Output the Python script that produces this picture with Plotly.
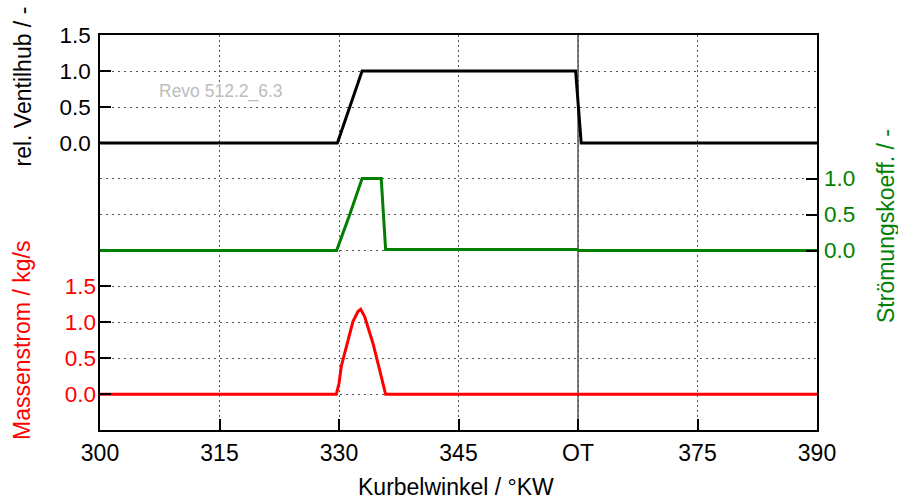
import plotly.graph_objects as go

# Crank angle axis
x_ticks = [300, 315, 330, 345, 360, 375, 390]
x_ticktext = ["300", "315", "330", "345", "OT", "375", "390"]
ot_angle = 360

# Relative valve lift
lift_angle = [300, 329.8, 331.35, 332.9, 359.7, 360.4, 390]
lift_value = [0.0, 0.0, 0.5, 1.0, 1.0, 0.0, 0.0]

# Flow coefficient
flow_angle = [300, 329.7, 331.35, 332.9, 335.3, 335.85, 359.9, 360.1, 390]
flow_value = [0.0, 0.0, 0.5, 1.0, 1.0, 0.015, 0.015, 0.0, 0.0]

# Mass flow
mass_angle = [300, 329.66, 330.0, 330.29, 330.71, 331.75, 332.38, 332.72,
              333.22, 334.26, 335.1, 335.85, 390]
mass_value = [0.0, 0.0, 0.15, 0.39, 0.57, 1.01, 1.15, 1.18,
              1.08, 0.71, 0.34, 0.0, 0.0]

lift_ticks = [0, 0.5, 1.0, 1.5]
flow_ticks = [0, 0.5, 1.0]
mass_ticks = [0, 0.5, 1.0, 1.5]

FONT = "Liberation Sans, Arial, sans-serif"
GREEN = "#008000"
RED = "#ff0000"
TICK_SIZE_Y = 22.5
TICK_SIZE_X = 23
TITLE_SIZE = 23

fig = go.Figure()
fig.add_trace(go.Scatter(x=lift_angle, y=lift_value, mode="lines",
                         line=dict(color="black", width=3), yaxis="y"))
fig.add_trace(go.Scatter(x=flow_angle, y=flow_value, mode="lines",
                         line=dict(color=GREEN, width=3), yaxis="y2"))
fig.add_trace(go.Scatter(x=mass_angle, y=mass_value, mode="lines",
                         line=dict(color=RED, width=3), yaxis="y3"))

tick_common = dict(ticks="inside", ticklen=11, tickwidth=1.5, tickcolor="black",
                   showgrid=True, gridcolor="#555", griddash="2px,4px", gridwidth=1,
                   zeroline=False, fixedrange=True)

fig.update_layout(
    width=898, height=500, autosize=False,
    margin=dict(l=100, r=81, t=35, b=70),
    paper_bgcolor="white", plot_bgcolor="white",
    showlegend=False,
    font=dict(family=FONT, size=20, color="black"),
    xaxis=dict(range=[300, 390], tickvals=x_ticks, ticktext=x_ticktext,
               ticks="inside", ticklen=11, tickwidth=1.5, tickcolor="black",
               showgrid=True, gridcolor="#555", griddash="2px,3px", gridwidth=1,
               zeroline=False, showline=True, linecolor="black", linewidth=1.5,
               mirror=True, ticklabelstandoff=2,
               tickfont=dict(size=TICK_SIZE_X, color="black")),
    yaxis=dict(range=[1.5 - 395 / 72, 1.5], tickvals=lift_ticks,
               tickformat=".1f", side="left", showline=True, linecolor="black",
               linewidth=1.5, mirror=True, ticklabelstandoff=3,
               tickfont=dict(size=TICK_SIZE_Y, color="black"), **tick_common),
    yaxis2=dict(range=[-(430 - 250.5) / 72, (250.5 - 35) / 72], tickvals=flow_ticks,
                tickformat=".1f", side="right", overlaying="y", ticklabelstandoff=6,
                tickfont=dict(size=TICK_SIZE_Y, color=GREEN), **tick_common),
    yaxis3=dict(range=[-(430 - 394.3) / 72, (394.3 - 35) / 72], tickvals=mass_ticks,
                tickformat=".1f", side="left", overlaying="y", ticklabelstandoff=3,
                tickfont=dict(size=TICK_SIZE_Y, color=RED), **tick_common),
)

# Top dead centre marker
fig.add_shape(type="line", xref="x", yref="paper", x0=ot_angle, x1=ot_angle,
              y0=0, y1=1, line=dict(color="black", width=1), layer="below")

# Axis titles
fig.add_annotation(text="rel. Ventilhub / -", xref="paper", yref="paper",
                   x=(22.5 - 100) / 717, y=(430 - 87) / 395, textangle=-90,
                   showarrow=False, xanchor="center", yanchor="middle",
                   font=dict(size=TITLE_SIZE, color="black"))
fig.add_annotation(text="Massenstrom / kg/s", xref="paper", yref="paper",
                   x=(22 - 100) / 717, y=(430 - 341) / 395, textangle=-90,
                   showarrow=False, xanchor="center", yanchor="middle",
                   font=dict(size=TITLE_SIZE, color=RED))
fig.add_annotation(text="Strömungskoeff. / -", xref="paper", yref="paper",
                   x=(886 - 100) / 717, y=(430 - 226) / 395, textangle=-90,
                   showarrow=False, xanchor="center", yanchor="middle",
                   font=dict(size=TITLE_SIZE, color=GREEN))
fig.add_annotation(text="Kurbelwinkel / °KW", xref="paper", yref="paper",
                   x=(455.5 - 100) / 717, y=(430 - 487) / 395,
                   showarrow=False, xanchor="center", yanchor="middle",
                   font=dict(size=TITLE_SIZE, color="black"))

# Model label
fig.add_annotation(text="Revo 512.2_6.3", xref="x", yref="y",
                   x=315.25, y=0.715, showarrow=False,
                   xanchor="center", yanchor="middle",
                   font=dict(size=17.5, color="#bdbdbd"))

fig.write_html("out.html")
